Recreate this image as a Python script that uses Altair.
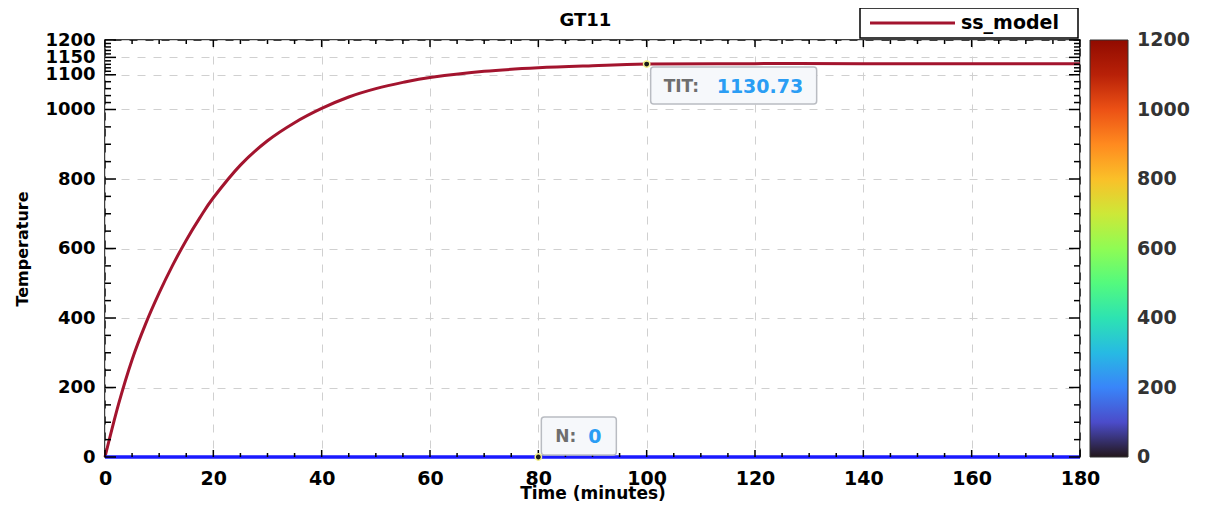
import altair as alt
import pandas as pd

# ---- data ----
time_min = [0, 2.5, 5, 7.5, 10, 12.5, 15, 17.5, 20, 25, 30, 35, 40, 45, 50, 55, 60,
            70, 80, 90, 100, 120, 140, 160, 180]
tit = [0, 152, 280, 383, 472, 552, 624, 688, 746, 840, 910, 962, 1003, 1036, 1060,
       1078, 1092, 1110, 1120, 1126, 1130.73, 1132, 1132, 1132, 1132]
n_time = [0, 180]
n_vals = [0, 0]
series_name = "ss_model"
chart_title = "GT11"

x_major = list(range(0, 181, 20))
x_minor = [v for v in range(0, 181, 5) if v % 20]
y_major = [0, 200, 400, 600, 800, 1000, 1100, 1150, 1200]
y_minor = ([v for v in range(0, 1000, 50) if v % 200] +
           [1020, 1040, 1060, 1080] +
           [v for v in range(1110, 1200, 10) if v != 1150])
cbar_values = [0, 200, 400, 600, 800, 1000, 1200]

tit_pt = {"t": 100, "v": 1130.73, "name": "TIT:"}
n_pt = {"t": 80, "v": 0, "name": "N:"}

W, H = 975, 417
FONT = "DejaVu Sans"
RED = "#a3142e"

df_tit = pd.DataFrame({"t": time_min, "v": tit})
df_n = pd.DataFrame({"t": n_time, "v": n_vals})

xs = alt.Scale(domain=[0, 180], nice=False, zero=False)
ys = alt.Scale(domain=[0, 1200], nice=False, zero=False)

x_axis = alt.Axis(values=x_major, grid=True, gridDash=[8, 8], gridColor="#d0d0d0",
                  gridWidth=1, ticks=False, domain=False, labelFont=FONT,
                  labelFontWeight="bold", labelFontSize=19, labelColor="black",
                  labelPadding=12, labelFlush=False, format="d",
                  title="Time (minutes)", titleFont=FONT,
                  titleFontSize=17, titleFontWeight="bold", titleColor="black",
                  titlePadding=-3)
y_axis = alt.Axis(values=y_major, grid=True, gridDash=[8, 8], gridColor="#d0d0d0",
                  gridWidth=1, ticks=False, domain=False, labelFont=FONT,
                  labelFontWeight="bold", labelFontSize=18, labelColor="black",
                  labelPadding=10, labelOverlap=False, labelFlush=False, format="d",
                  title="Temperature",
                  titleFont=FONT, titleFontSize=16, titleFontWeight="bold",
                  titleColor="black", titlePadding=14)

X = lambda f: alt.X(f, scale=xs, axis=x_axis)
Y = lambda f: alt.Y(f, scale=ys, axis=y_axis)

red = alt.Chart(df_tit).mark_line(strokeWidth=3, interpolate="cardinal",
                                  color=RED).encode(x=X("t:Q"), y=Y("v:Q"))
blue = alt.Chart(df_n).mark_line(strokeWidth=3.5, color="#1a1aff").encode(
    x=X("t:Q"), y=Y("v:Q"))

def tick_layer(vals, axis, length):
    d = pd.DataFrame({"p": vals})
    layers = []
    if axis == "x":
        for y0, y1 in [(H, H - length), (0, length)]:
            layers.append(alt.Chart(d).mark_rule(color="black", strokeWidth=1.5).encode(
                x=X("p:Q"), y=alt.value(y0), y2=alt.value(y1)))
    else:
        for x0, x1 in [(0, length), (W, W - length)]:
            layers.append(alt.Chart(d).mark_rule(color="black", strokeWidth=1.5).encode(
                y=Y("p:Q"), x=alt.value(x0), x2=alt.value(x1)))
    return layers

ticks = (tick_layer(x_major, "x", 7) + tick_layer(x_minor, "x", 4) +
         tick_layer(y_major, "y", 11) + tick_layer(y_minor, "y", 6))

def annotation(pt, bx0, bx1, by0, by1, tx_label, tx_val, ty):
    d = pd.DataFrame([pt])
    enc = dict(x=X("t:Q"), y=Y("v:Q"))
    box = alt.Chart(d).mark_rect(fill="#f6f8fb", stroke="#b9bcc2", strokeWidth=1.5,
                                 cornerRadius=3, xOffset=bx0, x2Offset=bx1,
                                 yOffset=by0, y2Offset=by1).encode(
        x2="t:Q", y2="v:Q", **enc)
    lab = alt.Chart(d).mark_text(align="left", baseline="middle", dx=tx_label, dy=ty,
                                 font=FONT, fontSize=17, fontWeight="bold",
                                 color="#6e6e6e").encode(text="name:N", **enc)
    val = alt.Chart(d).mark_text(align="left", baseline="middle", dx=tx_val, dy=ty,
                                 font=FONT, fontSize=19, fontWeight="bold",
                                 color="#2a9df4").encode(
        text=alt.Text("v:Q", format=".2~f"), **enc)
    dot = alt.Chart(d).mark_circle(size=40, color="#1a1a1a", stroke="#f4f08a",
                                   strokeWidth=1.5, opacity=1).encode(**enc)
    return [box, lab, val, dot]

ann = (annotation(tit_pt, 4, 170, 3, 40, 17, 70, 23) +
       annotation(n_pt, 3, 78, -40, -2, 17, 50, -20))

# legend box (drawn by hand)
leg = pd.DataFrame({"name": [series_name]})
leg_box = alt.Chart(leg).mark_rect(fill="white", stroke="black", strokeWidth=1.5).encode(
    x=alt.value(755), x2=alt.value(973), y=alt.value(-32), y2=alt.value(-2))
leg_line = alt.Chart(leg).mark_rule(color=RED, strokeWidth=3).encode(
    x=alt.value(765), x2=alt.value(850), y=alt.value(-17))
leg_text = alt.Chart(leg).mark_text(align="left", baseline="middle", font=FONT,
                                    fontSize=19, fontWeight="bold", color="black").encode(
    x=alt.value(856), y=alt.value(-17), text="name:N")

title = alt.Chart(pd.DataFrame({"name": [chart_title]})).mark_text(
    align="center", baseline="alphabetic", font=FONT, fontSize=18, fontWeight="bold",
    color="black").encode(x=alt.value(W / 2 - 7), y=alt.value(-14), text="name:N")

# colour bar (turbo) via a fill scale legend, labels drawn on the shared y scale
cbar = alt.Chart(pd.DataFrame({"c": [0, 1200]})).mark_circle(size=0, opacity=1).encode(
    x=alt.value(0), y=alt.value(0),
    fill=alt.Fill("c:Q", scale=alt.Scale(scheme="turbo", domain=[0, 1200]),
                  legend=alt.Legend(orient="none", legendX=985, legendY=0,
                                    title=None, direction="vertical",
                                    gradientLength=H, gradientThickness=38,
                                    gradientStrokeColor="#333", gradientStrokeWidth=1,
                                    values=cbar_values, labelOpacity=0,
                                    labelFontSize=1, padding=0)),
)
cbar_labels = alt.Chart(pd.DataFrame({"v": cbar_values})).mark_text(
    align="left", baseline="middle", font=FONT, fontSize=19, fontWeight="bold",
    color="#333").encode(x=alt.value(W + 57), y=Y("v:Q"), text=alt.Text("v:Q", format="d"))

chart = alt.layer(red, blue, *ticks, *ann, leg_box, leg_line, leg_text, title,
                  cbar, cbar_labels).properties(
    width=W, height=H,
    autosize=alt.AutoSizeParams(type="none"),
    padding={"left": 97, "top": 32, "right": 119, "bottom": 45},
).configure_view(stroke="black", strokeWidth=1.5)

chart.save("out.html", embed_options={"renderer": "svg", "actions": False})
